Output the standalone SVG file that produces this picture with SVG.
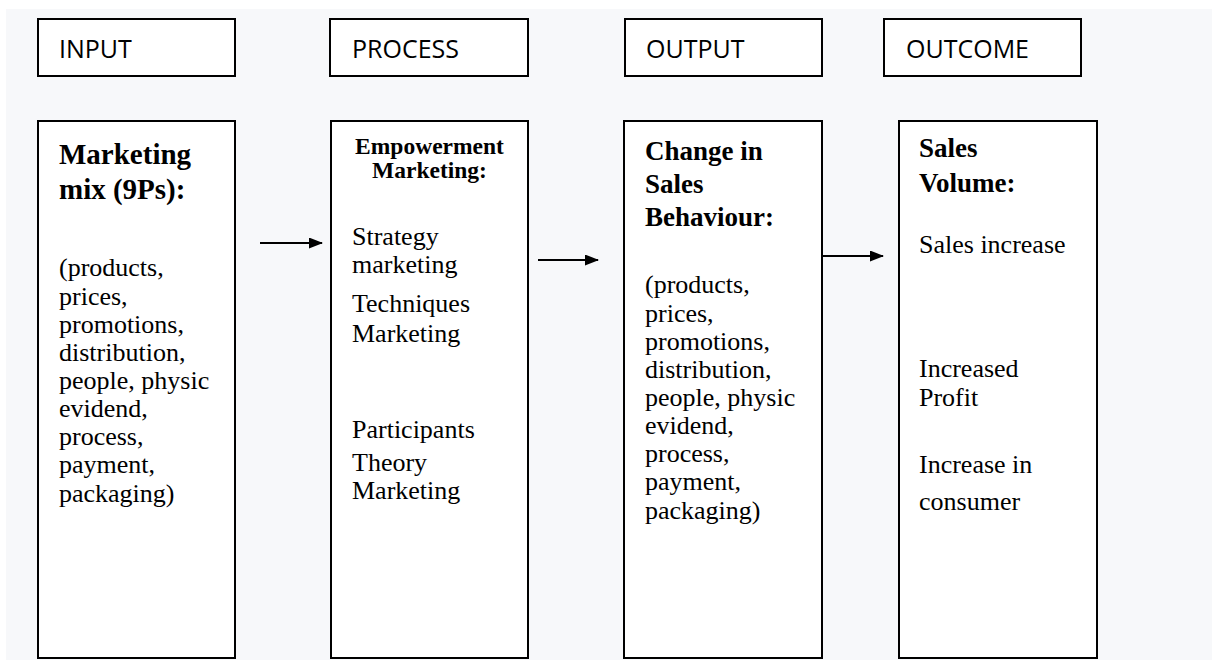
<svg xmlns="http://www.w3.org/2000/svg" width="1212" height="660" viewBox="0 0 1212 660">
<defs>
<style>
.bx{fill:#ffffff;stroke:#000000;stroke-width:2}
.hd{font-family:"Open Sans","Liberation Sans",sans-serif;font-size:25px;fill:#000}
.tb{font-family:"Liberation Serif","Times New Roman",serif;font-weight:bold;font-size:27px;fill:#000}
.tr{font-family:"Liberation Serif","Times New Roman",serif;font-size:26px;fill:#000}
.cn{stroke:#000;stroke-width:2;fill:none}
</style>
<marker id="ah" viewBox="0 0 14 11" refX="13" refY="5.5" markerWidth="14" markerHeight="11" orient="auto" markerUnits="userSpaceOnUse">
<path d="M0,0 L14,5.5 L0,11 z" fill="#000"/>
</marker>
</defs>
<rect x="0" y="0" width="1212" height="660" fill="#ffffff"/>
<rect x="6" y="9" width="1206" height="651" fill="#f7f8fa"/>

<g id="h-input"><rect class="bx" x="38" y="19" width="197" height="57"/><text class="hd" x="59" y="58">INPUT</text></g>
<g id="h-process"><rect class="bx" x="330" y="19" width="198" height="57"/><text class="hd" x="352" y="58">PROCESS</text></g>
<g id="h-output"><rect class="bx" x="625" y="19" width="197" height="57"/><text class="hd" x="646" y="58">OUTPUT</text></g>
<g id="h-outcome"><rect class="bx" x="884" y="19" width="197" height="57"/><text class="hd" x="906" y="58">OUTCOME</text></g>

<g id="input">
<rect class="bx" x="38" y="121" width="197" height="537"/>
<text class="tb" style="font-size:29px" x="59" y="164">Marketing</text>
<text class="tb" style="font-size:29px" x="59" y="199">mix (9Ps):</text>
<text class="tr" x="59" y="276">(products,</text>
<text class="tr" x="59" y="305">prices,</text>
<text class="tr" x="59" y="333">promotions,</text>
<text class="tr" x="59" y="361">distribution,</text>
<text class="tr" x="59" y="389">people, physic</text>
<text class="tr" x="59" y="417">evidend,</text>
<text class="tr" x="59" y="445">process,</text>
<text class="tr" x="59" y="473">payment,</text>
<text class="tr" x="59" y="502">packaging)</text>
</g>

<g id="process">
<rect class="bx" x="331" y="121" width="197" height="537"/>
<text class="tb" style="font-size:23.5px" x="429.5" y="154" text-anchor="middle">Empowerment</text>
<text class="tb" style="font-size:23.5px" x="429.5" y="178" text-anchor="middle">Marketing:</text>
<text class="tr" x="352" y="245">Strategy</text>
<text class="tr" x="352" y="273">marketing</text>
<text class="tr" x="352" y="312">Techniques</text>
<text class="tr" x="352" y="342">Marketing</text>
<text class="tr" x="352" y="438">Participants</text>
<text class="tr" x="352" y="471">Theory</text>
<text class="tr" x="352" y="499">Marketing</text>
</g>

<g id="output">
<rect class="bx" x="624" y="121" width="198" height="537"/>
<text class="tb" x="645" y="160">Change in</text>
<text class="tb" x="645" y="193">Sales</text>
<text class="tb" x="645" y="226">Behaviour:</text>
<text class="tr" x="645" y="293">(products,</text>
<text class="tr" x="645" y="322">prices,</text>
<text class="tr" x="645" y="350">promotions,</text>
<text class="tr" x="645" y="378">distribution,</text>
<text class="tr" x="645" y="406">people, physic</text>
<text class="tr" x="645" y="434">evidend,</text>
<text class="tr" x="645" y="462">process,</text>
<text class="tr" x="645" y="490">payment,</text>
<text class="tr" x="645" y="519">packaging)</text>
</g>

<g id="outcome">
<rect class="bx" x="899" y="121" width="198" height="537"/>
<text class="tb" x="919" y="157">Sales</text>
<text class="tb" x="919" y="192">Volume:</text>
<text class="tr" x="919" y="253">Sales increase</text>
<text class="tr" x="919" y="377">Increased</text>
<text class="tr" x="919" y="406">Profit</text>
<text class="tr" x="919" y="473">Increase in</text>
<text class="tr" x="919" y="510">consumer</text>
</g>

<g id="connectors">
<line class="cn" x1="260" y1="243" x2="322" y2="243" marker-end="url(#ah)"/>
<line class="cn" x1="538" y1="260" x2="598" y2="260" marker-end="url(#ah)"/>
<line class="cn" x1="822" y1="256" x2="883" y2="256" marker-end="url(#ah)"/>
</g>
</svg>
